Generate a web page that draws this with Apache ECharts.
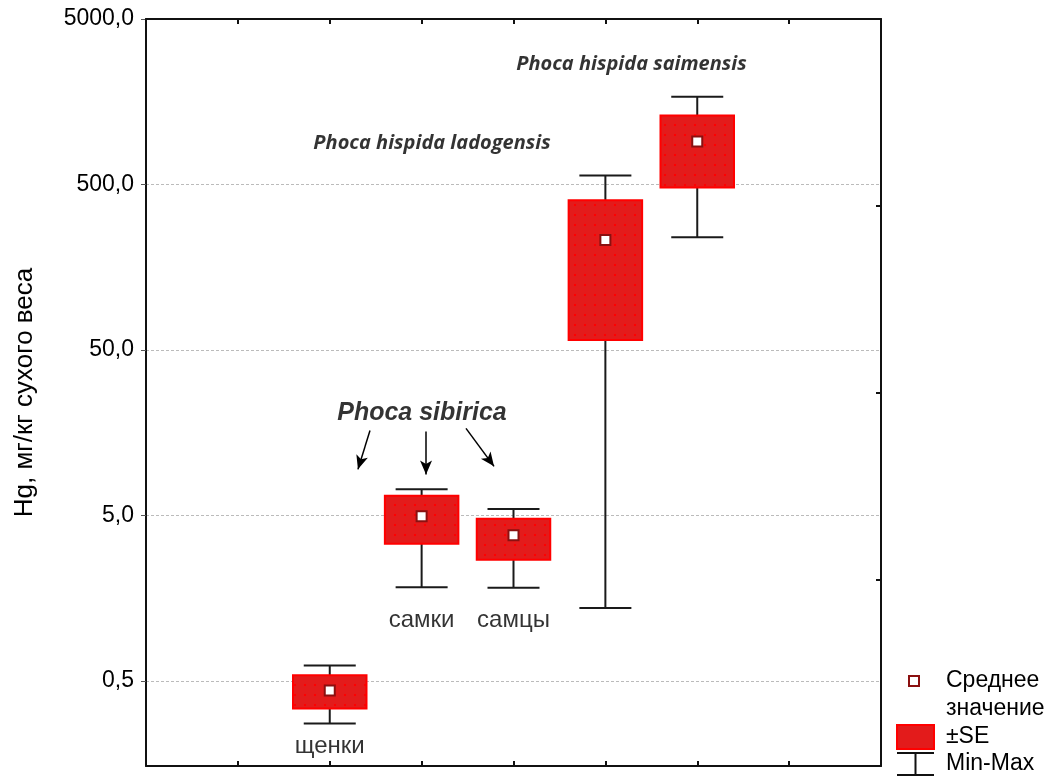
<!DOCTYPE html>
<html>
<head>
<meta charset="utf-8">
<script src="https://cdn.jsdelivr.net/npm/echarts@6/dist/echarts.min.js"></script>
<style>
html,body{margin:0;padding:0;background:#fff;}
#chart{width:1050px;height:776px;}
</style>
</head>
<body>
<div id="chart"></div>
<script>
// ---- data ----
const groupX = [2, 3, 4, 5, 6];
const groupNames = ['щенки', 'самки', 'самцы', 'Phoca hispida ladogensis', 'Phoca hispida saimensis'];
const meanVals = [0.437, 4.95, 3.79, 231, 909];
const seLow = [0.34, 3.37, 2.70, 57.4, 480];
const seHigh = [0.54, 6.57, 4.77, 402, 1306];
const minVals = [0.276, 1.84, 1.83, 1.38, 240];
const maxVals = [0.62, 7.2, 5.46, 566, 1694];
const yTicks = [0.5, 5, 50, 500, 5000];

// annotations (data coordinates)
const catLabels = ['щенки', 'самки', 'самцы'];
const catLabelX = [2, 3, 4];
const catLabelY = [0.2, 1.16, 1.16];
const speciesLabels = ['Phoca hispida ladogensis', 'Phoca hispida saimensis'];
const speciesX = [3.113, 5.284];
const speciesY = [884, 2653];
const sibiricaLabel = 'Phoca sibirica';
const sibiricaX = 3.004, sibiricaY = 20.7;
const arrowsFrom = [[2.438, 16.3], [3.048, 16.1], [3.483, 16.8]];
const arrowsTo = [[2.307, 9.49], [3.048, 8.84], [3.788, 9.9]];

// pattern for box fill
const pc = document.createElement('canvas');
pc.width = 10; pc.height = 10;
const pctx = pc.getContext('2d');
pctx.fillStyle = '#e31b1b'; pctx.fillRect(0, 0, 10, 10);
pctx.fillStyle = '#ff0000'; pctx.fillRect(4, 4, 2, 2);
const boxPattern = {image: pc, repeat: 'repeat'};

const whiskerData = groupX.map((x, i) => [x, minVals[i], maxVals[i]]);
const boxData = groupX.map((x, i) => [x, seLow[i], seHigh[i]]);
const meanData = groupX.map((x, i) => [x, meanVals[i]]);

const FONT = 'Liberation Sans, Arial, sans-serif';
const chart = echarts.init(document.getElementById('chart'), null, {renderer: 'canvas'});

const fmt = v => Number(v).toFixed(1).replace('.', ',');

const option = {
  animation: false,
  backgroundColor: '#fff',
  grid: {left: 146, right: 169, top: 19, bottom: 10, containLabel: false},
  xAxis: [
    {type: 'value', min: 0, max: 8, interval: 1, position: 'bottom',
     axisLine: {show: true, onZero: false, lineStyle: {color: '#111', width: 2}},
     axisTick: {show: true, inside: true, length: 5, lineStyle: {color: '#111', width: 2}},
     axisLabel: {show: false}, splitLine: {show: false}},
    {type: 'value', min: 0, max: 8, interval: 1, position: 'top',
     axisLine: {show: true, onZero: false, lineStyle: {color: '#111', width: 2}},
     axisTick: {show: true, inside: true, length: 5, lineStyle: {color: '#111', width: 2}},
     axisLabel: {show: false}, splitLine: {show: false}}
  ],
  yAxis: [
    {type: 'log', logBase: 10, min: 0.153, max: 5000, position: 'left',
     name: 'Hg, мг/кг сухого веса', nameLocation: 'middle', nameGap: 108,
     nameTextStyle: {fontFamily: FONT, fontSize: 26, color: '#000'},
     axisLine: {show: true, onZero: false, lineStyle: {color: '#111', width: 2}},
     axisTick: {show: true, inside: false, length: 5, customValues: yTicks, lineStyle: {color: '#555', width: 1}},
     axisLabel: {show: true, customValues: yTicks, margin: 12, formatter: fmt,
                 fontFamily: FONT, fontSize: 23, color: '#000'},
     splitLine: {show: true, lineStyle: {color: '#bbb', width: 1, type: [3, 2]}}},
    {type: 'value', min: 0, max: 4, interval: 1, position: 'right',
     axisLine: {show: true, onZero: false, lineStyle: {color: '#111', width: 2}},
     axisTick: {show: true, inside: true, length: 5, lineStyle: {color: '#111', width: 2}},
     axisLabel: {show: false}, splitLine: {show: false}}
  ],
  legend: [
    {orient: 'vertical', left: 908, top: 667, padding: 0, itemWidth: 10, itemHeight: 46,
     formatter: n => n.replace(' ', '\n'),
     textStyle: {fontFamily: FONT, fontSize: 23, color: '#000', lineHeight: 28, padding: [0, 0, 0, 22]},
     data: [{name: 'Среднее значение', icon: 'path://M0,0M0,4h10v10h-10zM0,46',
             itemStyle: {color: '#fff', borderColor: '#8b1010', borderWidth: 2}}]},
    {orient: 'vertical', left: 896, top: 724, padding: 0, itemWidth: 37, itemHeight: 24,
     textStyle: {fontFamily: FONT, fontSize: 23, color: '#000', lineHeight: 24, padding: [0, 0, 0, 7]},
     data: [
       {name: '±SE', icon: 'rect', itemStyle: {color: '#e31b1b', borderColor: '#ff0000', borderWidth: 2}}
     ]},
    {orient: 'vertical', left: 896, top: 752, padding: 0, itemWidth: 37, itemHeight: 24,
     textStyle: {fontFamily: FONT, fontSize: 23, color: '#000', lineHeight: 24, padding: [0, 0, 0, 7]},
     data: [
       {name: 'Min-Max', icon: 'path://M0,1H37M18.5,1V23M0,23H37',
        itemStyle: {color: 'transparent', borderColor: '#111', borderWidth: 2}}
     ]}
  ],
  series: [
    {
      name: 'Min-Max', type: 'custom', xAxisIndex: 0, yAxisIndex: 0,
      encode: {x: 0, y: [1, 2]},
      data: whiskerData,
      renderItem: function (params, api) {
        const x = api.value(0), lo = api.value(1), hi = api.value(2);
        const top = api.coord([x, hi]);
        const bot = api.coord([x, lo]);
        const tl = api.coord([x - 0.283, hi]), tr = api.coord([x + 0.283, hi]);
        const bl = api.coord([x - 0.283, lo]), br = api.coord([x + 0.283, lo]);
        const st = {stroke: '#1a1a1a', lineWidth: 2};
        return {type: 'group', children: [
          {type: 'line', shape: {x1: top[0], y1: top[1], x2: bot[0], y2: bot[1]}, style: st},
          {type: 'line', shape: {x1: tl[0], y1: tl[1], x2: tr[0], y2: tr[1]}, style: st},
          {type: 'line', shape: {x1: bl[0], y1: bl[1], x2: br[0], y2: br[1]}, style: st}
        ]};
      },
      z: 2
    },
    {
      name: '±SE', type: 'custom', xAxisIndex: 0, yAxisIndex: 0,
      encode: {x: 0, y: [1, 2]},
      data: boxData,
      renderItem: function (params, api) {
        const x = api.value(0), lo = api.value(1), hi = api.value(2);
        const p1 = api.coord([x - 0.4, hi]);
        const p2 = api.coord([x + 0.4, lo]);
        return {type: 'rect',
          shape: {x: p1[0], y: p1[1], width: p2[0] - p1[0], height: p2[1] - p1[1]},
          style: {fill: boxPattern, stroke: '#ff0000', lineWidth: 2}};
      },
      z: 3
    },
    {
      name: 'Среднее значение', type: 'scatter', xAxisIndex: 0, yAxisIndex: 0,
      data: meanData, symbol: 'rect', symbolSize: 10,
      itemStyle: {color: '#fff', borderColor: '#8b1010', borderWidth: 2, opacity: 1},
      z: 4
    },
    {
      name: 'labels', type: 'scatter', xAxisIndex: 0, yAxisIndex: 0,
      symbolSize: 1, itemStyle: {color: 'transparent'}, silent: true,
      data: catLabels.map((t, i) => ({value: [catLabelX[i], catLabelY[i]], name: t,
        label: {show: true, position: 'inside', formatter: t,
                fontFamily: FONT, fontSize: 24, color: '#000'}}))
        .concat(speciesLabels.map((t, i) => ({value: [speciesX[i], speciesY[i]], name: t,
        label: {show: true, position: 'inside', formatter: t,
                fontFamily: 'Open Sans, sans-serif', fontSize: 20, fontStyle: 'italic', fontWeight: 'bold', color: '#000'}})))
        .concat([{value: [sibiricaX, sibiricaY], name: sibiricaLabel,
        label: {show: true, position: 'inside', formatter: sibiricaLabel,
                fontFamily: FONT, fontSize: 25, fontStyle: 'italic', fontWeight: 'bold', color: '#000'}}]),
      markLine: {
        silent: true, animation: false,
        symbol: ['none', 'arrow'], symbolSize: [9, 14],
        label: {show: false},
        lineStyle: {color: '#000', width: 1.5, type: 'solid'},
        data: arrowsFrom.map((a, i) => [{coord: a}, {coord: arrowsTo[i]}])
      },
      z: 5
    }
  ]
};
chart.setOption(option);
</script>
</body>
</html>
